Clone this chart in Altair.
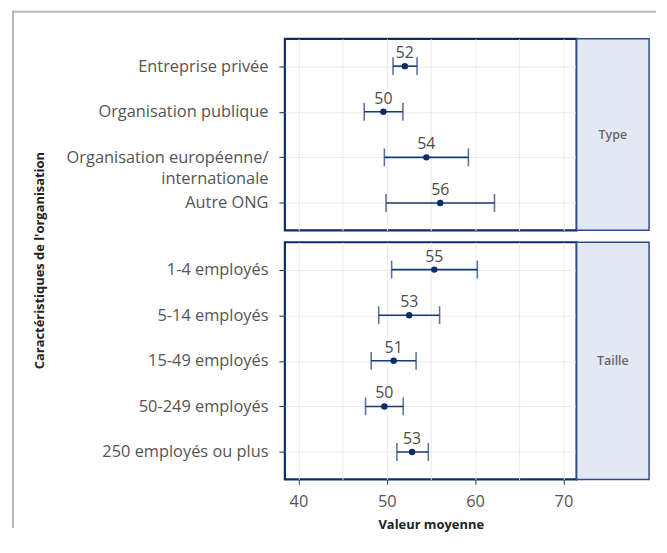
import altair as alt
import pandas as pd

# ---- data ----
type_cats = ["Entreprise privée", "Organisation publique",
             "Organisation européenne/|internationale", "Autre ONG"]
type_mean = [52.05, 49.62, 54.48, 56.05]
type_lo = [50.71, 47.45, 49.73, 49.92]
type_hi = [53.43, 51.83, 59.24, 62.19]

size_cats = ["1-4 employés", "5-14 employés", "15-49 employés",
             "50-249 employés", "250 employés ou plus"]
size_mean = [55.38, 52.54, 50.78, 49.73, 52.87]
size_lo = [50.55, 49.09, 48.24, 47.60, 51.15]
size_hi = [60.25, 55.98, 53.32, 51.86, 54.70]

strip_labels = ["Type", "Taille"]
x_ticks = [40, 45, 50, 55, 60, 65, 70]

NAVY = "#0d2d66"
BAR = "#173a73"
FONT = "Open Sans"
PW = 294
SW = 73
H1 = 193
H2 = 239

xscale = alt.Scale(domain=[38.47, 71.49], nice=False, zero=False)


def make_panel(cats, mean, lo, hi, height, bottom, first):
    df = pd.DataFrame({"cat": cats, "mean": mean, "lo": lo, "hi": hi})
    if bottom:
        x_axis = alt.Axis(values=x_ticks, grid=True, domain=False,
                          title="Valeur moyenne", tickSize=5, tickColor=BAR,
                          tickOpacity={"condition": {"test": "datum.value % 10 !== 0", "value": 0}, "value": 1},
                          labelExpr="datum.value % 10 === 0 ? datum.label : ''",
                          labelPadding=9, titlePadding=9)
    else:
        x_axis = alt.Axis(values=x_ticks, grid=True, domain=False, labels=False,
                          ticks=False, title=None)
    if first:
        y_axis = alt.Axis(title="Caractéristiques de l'organisation", titleAngle=270,
                          titleX=-247.5, titleY=223, titleAlign="center",
                          titleBaseline="middle", grid=True, domain=False,
                          tickColor=NAVY, tickSize=6, labelPadding=11,
                          labelExpr="split(datum.label, '|')", labelLineHeight=21,
                          labelLimit=400)
    else:
        y_axis = alt.Axis(title=None, grid=True, domain=False, tickColor=NAVY,
                          tickSize=6, labelPadding=11, labelLimit=400)
    y = alt.Y("cat:N", sort=cats, scale=alt.Scale(type="point", padding=0.6), axis=y_axis)
    base = alt.Chart(df)
    rule = base.mark_rule(color=BAR, strokeWidth=1.6).encode(
        y=y, x=alt.X("lo:Q", scale=xscale, axis=x_axis), x2="hi:Q")
    tick_lo = base.mark_tick(color=BAR, size=18, thickness=1.6).encode(
        y=y, x=alt.X("lo:Q", scale=xscale, axis=x_axis))
    tick_hi = base.mark_tick(color=BAR, size=18, thickness=1.6).encode(
        y=y, x=alt.X("hi:Q", scale=xscale, axis=x_axis))
    pts = base.mark_circle(color=NAVY, size=42, opacity=1).encode(
        y=y, x=alt.X("mean:Q", scale=xscale, axis=x_axis))
    txt = base.mark_text(dy=-13, fontSize=16, color="#4d4d4d", font=FONT,
                         fontWeight=500).encode(
        y=y, x=alt.X("mean:Q", scale=xscale, axis=x_axis),
        text=alt.Text("mean:Q", format=".0f"))
    layers = [rule, tick_lo, tick_hi, pts, txt]
    if first:
        fdf = pd.DataFrame({"k": [0]})
        top = alt.Chart(fdf).mark_rule(color="#b5b8bb", strokeWidth=2).encode(
            x=alt.value(-275), x2=alt.value(374), y=alt.value(-27.2))
        left = alt.Chart(fdf).mark_rule(color="#b5b8bb", strokeWidth=2).encode(
            x=alt.value(-274), y=alt.value(-28.2), y2=alt.value(493))
        layers = [top, left] + layers
    return alt.layer(*layers).properties(
        width=PW, height=height,
        view=alt.ViewBackground(fill="white", stroke=NAVY, strokeWidth=2.2))


def make_strip(label, height):
    return alt.Chart(pd.DataFrame({"label": [label]})).mark_text(
        fontSize=12.5, fontWeight=600, color="#666", font=FONT).encode(
        text="label:N", x=alt.value(SW / 2), y=alt.value(height / 2)).properties(
        width=SW, height=height,
        view=alt.ViewBackground(fill="#e3e9f4", stroke="#2d4e8a", strokeWidth=1.5))


p1 = make_panel(type_cats, type_mean, type_lo, type_hi, H1, False, True)
p2 = make_panel(size_cats, size_mean, size_lo, size_hi, H2, True, False)
s1 = make_strip(strip_labels[0], H1)
s2 = make_strip(strip_labels[1], H2)

chart = alt.concat(p1, s1, p2, s2, columns=2, spacing={"row": 12, "column": 0},
                   bounds="flush").properties(
    padding={"left": 1, "top": -2, "right": 0, "bottom": 0}
).configure_axis(
    labelFont=FONT, labelFontSize=16.5, labelColor="#555",
    titleFont=FONT, titleFontSize=13, titleFontWeight="bold", titleColor="#222",
    gridColor="#ebebeb", gridWidth=1
).configure_view(stroke=None)

chart.save("out.html", embed_options={"renderer": "svg", "actions": False})
